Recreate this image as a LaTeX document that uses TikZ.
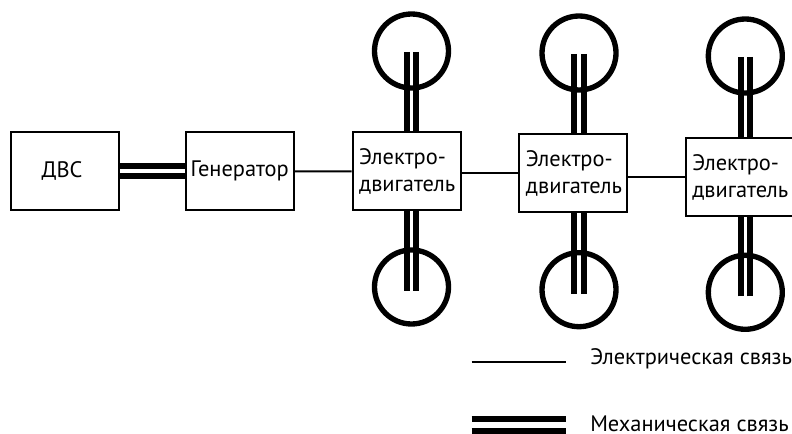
\documentclass[tikz,border=0pt]{standalone}
\usepackage{fontspec}
\setmainfont{PT Sans}
\tikzset{
  x=0.75pt,y=-0.75pt,
  lbl/.style={font=\fontsize{16.8pt}{20.6pt}\selectfont,text=black},
  plainbox/.style={draw=black,line width=1.5pt,fill=white,inner sep=0pt,minimum width=81pt,minimum height=58.5pt,lbl},
  motorbox/.style={plainbox,inner xsep=5pt,text width=71pt,align=left},
  wheel/.style={draw=black,line width=4pt,circle,minimum size=55.5pt,inner sep=0pt,outer sep=0pt},
  elec/.style={draw=black,line width=1.5pt},
  mech/.style={draw=black,line width=4.5pt}
}
\begin{document}
\begin{tikzpicture}
\useasboundingbox (0,0) rectangle (792,434);
\node[plainbox] (dvs) at (65,171.3) {\kern-4.5pt ДВС};
\node[plainbox] (gen) at (239.7,171.3) {Генератор};
\node[motorbox] (m1) at (406.5,171.5) {Электро-\\двигатель};
\node[motorbox] (m2) at (573.3,173.3) {Электро-\\двигатель};
\node[motorbox] (m3) at (739.6,177.2) {Электро-\\двигатель};
\node[wheel] (w1t) at (411.5,51) {};
\node[wheel] (w2t) at (579,53) {};
\node[wheel] (w3t) at (745.3,56) {};
\node[wheel] (w1b) at (411.5,287) {};
\node[wheel] (w2b) at (579,289.7) {};
\node[wheel] (w3b) at (745.3,292.3) {};
\foreach \m/\wt/\wb in {m1/w1t/w1b,m2/w2t/w2b,m3/w3t/w3b}{
  \foreach \s in {-3.4pt,3.4pt}{
    \draw[mech] ([xshift=\s,yshift=-0.75pt]\wt.center) -- ([xshift=\s]\wt.center |- \m.north);
    \draw[mech] ([xshift=\s,yshift=-3pt]\wb.center) -- ([xshift=\s]\wb.center |- \m.south);
  }
}
\draw[mech] ([yshift=3.8pt]dvs.east) -- ([yshift=3.8pt]gen.west);
\draw[mech] ([yshift=-3.8pt]dvs.east) -- ([yshift=-3.8pt]gen.west);
\draw[elec] (gen.east) -- (m1.west);
\draw[elec] (m1.east |- m2.west) -- (m2.west);
\draw[elec] (m2.east |- m3.west) -- (m3.west);
\coordinate (e1) at (471.5,361.7);
\coordinate (e2) at (566,361.7);
\draw[elec] (e1) -- (e2);
\coordinate (k1) at (471.5,419);
\coordinate (k2) at (566,419);
\coordinate (k3) at (471.5,431);
\coordinate (k4) at (566,431);
\draw[mech] (k1) -- (k2);
\draw[mech] (k3) -- (k4);
\node[lbl,anchor=base west,inner sep=0pt] (t1) at (590,364.3) {Электрическая связь};
\node[lbl,anchor=base west,inner sep=0pt] (t2) at (590,431.7) {Механическая связь};
\end{tikzpicture}
\end{document}
